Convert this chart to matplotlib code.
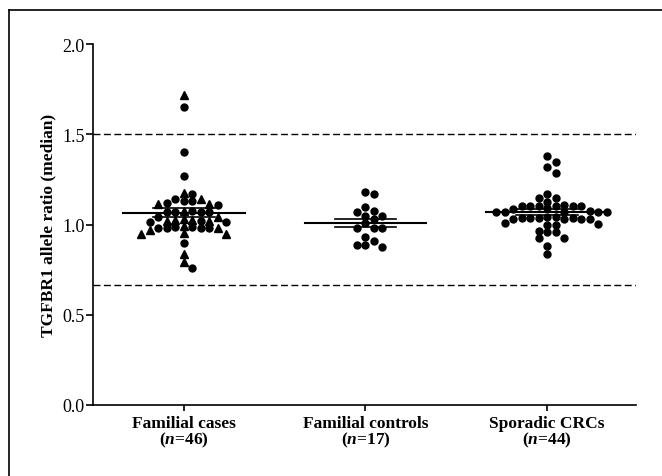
import numpy as np
import matplotlib
matplotlib.use('Agg')
import matplotlib.pyplot as plt
from matplotlib.lines import Line2D

plt.rcParams['font.family'] = ['Liberation Serif', 'DejaVu Serif']
plt.rcParams['mathtext.fontset'] = 'custom'
plt.rcParams['mathtext.rm'] = 'Liberation Serif:bold'
plt.rcParams['mathtext.it'] = 'Liberation Serif:bold:italic'
plt.rcParams['mathtext.bf'] = 'Liberation Serif:bold'

# ---- data ----
categories = ['Familial cases', 'Familial controls', 'Sporadic CRCs']
n_counts = ['46', '17', '44']

cases_values = [1.72, 1.65, 1.40, 1.27,
                1.17, 1.175,
                1.14, 1.13, 1.115, 1.112, 1.11, 1.12, 1.13, 1.14,
                1.075, 1.07, 1.072, 1.07, 1.071, 1.073,
                1.04, 1.04, 1.025, 1.02, 1.015, 1.015, 1.02, 1.018, 1.025, 1.03,
                0.985, 0.98, 0.98, 0.978, 0.98, 0.985, 0.99,
                0.95, 0.95, 0.952,
                0.97,
                0.90, 0.835, 0.79, 0.76,
                0.98]
cases_markers = ['^', 'o', 'o', 'o',
                 'o', '^',
                 'o', 'o', '^', '^', 'o', 'o', 'o', '^',
                 '^', 'o', 'o', 'o', 'o', 'o',
                 'o', '^', '^', 'o', 'o', 'o', '^', '^', '^', '^',
                 'o', 'o', 'o', '^', 'o', 'o', '^',
                 '^', '^', '^',
                 '^',
                 'o', '^', '^', 'o',
                 'o']

controls_values = [1.178, 1.169, 1.099, 1.071, 1.049, 1.077, 1.049, 1.030, 1.007,
                   0.981, 0.981, 0.981, 0.929, 0.886, 0.877, 0.886, 0.907]

sporadic_values = [1.38, 1.345, 1.317, 1.285,
                   1.17, 1.145, 1.145, 1.127,
                   1.11, 1.104, 1.104, 1.104, 1.104, 1.104, 1.104,
                   1.085, 1.071, 1.071, 1.071, 1.071, 1.075, 1.071, 1.09,
                   1.04, 1.036, 1.032, 1.03, 1.036, 1.04, 1.036, 1.03, 1.032, 1.036,
                   1.00, 0.995, 1.005, 1.01,
                   0.957, 0.957, 0.965,
                   0.927, 0.927,
                   0.883, 0.837]

reference_lines = [1.5, 0.667]
yticks = [0.0, 0.5, 1.0, 1.5, 2.0]

# ---- figure ----
W, H = 662, 477
fig = plt.figure(figsize=(W / 100, H / 100), dpi=100)
ax = fig.add_axes([93 / W, 1 - 406 / H, (636 - 93) / W, (406 - 45) / H])
ax.set_xlim(-0.5, 2.49)
ax.set_ylim(0, 2.0)

# frame around figure (left and top)
fig.add_artist(Line2D([8.5 / W, 8.5 / W], [0, 1 - 10.5 / H], color='black', lw=1.2,
                      transform=fig.transFigure))
fig.add_artist(Line2D([8.5 / W, 1], [1 - 10.5 / H, 1 - 10.5 / H], color='black', lw=1.2,
                      transform=fig.transFigure))

for spine in ['top', 'right']:
    ax.spines[spine].set_visible(False)
for spine in ['left', 'bottom']:
    ax.spines[spine].set_linewidth(1.2)

for r in reference_lines:
    ax.axhline(r, color='black', lw=1.0, dashes=(5, 2.5), zorder=1)

# pixel scales
px_x = (636 - 93) / (2.49 + 0.5)
px_y = (406 - 45) / 2.0


def swarm(vals, step=8.5, dx_min=8.0, dy_min=6.6):
    vals = np.asarray(vals, dtype=float)
    order = np.argsort(-vals, kind='stable')
    placed = []
    offs = np.zeros(len(vals))
    cands = [0]
    for j in range(1, 30):
        cands += [j, -j]
    for i in order:
        y = vals[i] * px_y
        for c in cands:
            x = c * step
            ok = True
            for (qx, qy) in placed:
                if ((x - qx) / dx_min) ** 2 + ((y - qy) / dy_min) ** 2 < 1:
                    ok = False
                    break
            if ok:
                break
        placed.append((x, y))
        offs[i] = x / px_x
    return offs


groups = [(cases_values, cases_markers),
          (controls_values, ['o'] * len(controls_values)),
          (sporadic_values, ['o'] * len(sporadic_values))]

for gi, (vals, marks) in enumerate(groups):
    offs = swarm(vals)
    vals = np.asarray(vals)
    for m in ['o', '^']:
        sel = np.array([mm == m for mm in marks])
        if sel.any():
            ax.plot(gi + offs[sel], vals[sel], linestyle='none', marker=m,
                    color='black', ms=5.0 if m == 'o' else 5.4, zorder=3)
    mean = vals.mean()
    sem = vals.std(ddof=1) / np.sqrt(len(vals))
    ax.plot([gi - 0.335, gi + 0.335], [mean, mean], color='black', lw=1.5, zorder=4)
    for v in (mean - sem, mean + sem):
        ax.plot([gi - 0.17, gi + 0.17], [v, v], color='black', lw=1.2, zorder=4)

ax.set_yticks(yticks)
ax.set_yticklabels([f'{t:.1f}' for t in yticks], fontsize=13)
ax.tick_params(axis='y', direction='out', length=5, width=1.2, pad=1)
ax.set_xticks([0, 1, 2])
ax.set_xticklabels([f'{c}\n($\\it{{n}}$=' + n + ')' for c, n in zip(categories, n_counts)],
                   fontsize=12.5, fontweight='bold', linespacing=0.9)
ax.tick_params(axis='x', direction='out', length=4, width=1.2, pad=3)
ax.set_ylabel('TGFBR1 allele ratio (median)', fontsize=12.5, fontweight='bold', labelpad=4)

fig.savefig('out.png', dpi=100)
